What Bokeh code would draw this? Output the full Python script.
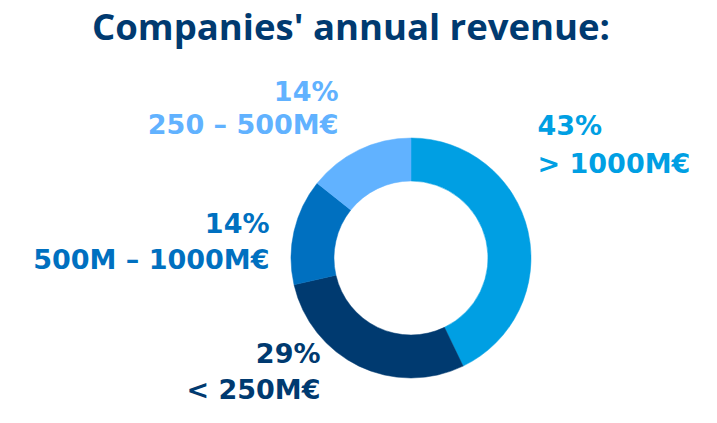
from bokeh.plotting import figure
from bokeh.models import Range1d, ColumnDataSource
from bokeh.core.properties import value
from bokeh.embed import file_html
from bokeh.resources import INLINE
import math

# ---- data ----
categories = ["> 1000M€", "< 250M€", "500M – 1000M€", "250 – 500M€"]
shares = [42.86, 28.57, 14.29, 14.29]
pct_labels = ["43%", "29%", "14%", "14%"]
colors = ["#009FE3", "#003A70", "#0070C0", "#61B2FF"]
title_text = "Companies' annual revenue:"

W, H = 701, 407
p = figure(width=W, height=H, output_backend="svg", toolbar_location=None,
           title=None, x_range=Range1d(0, W), y_range=Range1d(0, H), min_border=0)
p.axis.visible = False
p.grid.visible = False
p.outline_line_color = None
p.background_fill_color = "white"
p.border_fill_color = "white"

def X(px):
    return px
def Y(py):
    return H - py

# donut
total = sum(shares)
starts, ends = [], []
cum = 0.0
for s in shares:
    starts.append(math.pi / 2 - 2 * math.pi * cum / total)
    cum += s
    ends.append(math.pi / 2 - 2 * math.pi * cum / total)
src = ColumnDataSource(dict(start=starts, end=ends, color=colors, cat=categories))
p.annular_wedge(x=X(410.5), y=Y(257.5), inner_radius=77, outer_radius=120,
                inner_radius_units="screen", outer_radius_units="screen",
                start_angle="start", end_angle="end", direction="clock",
                fill_color="color", line_color="color", line_width=0.5, source=src)

# title
p.text(x=[X(350.5)], y=[Y(25.5)], text=[title_text], text_font=value("Open Sans"),
       text_font_style="bold", text_font_size="36.5px", text_color="#003A70",
       text_align="center", text_baseline="middle")

# labels: (anchor x, middle of line 1, middle of line 2, align)
label_pos = [
    (537, 124.5, 163, "left"),
    (320, 353, 389, "right"),
    (269, 222.5, 259, "right"),
    (338, 91, 124, "right"),
]
for (ax, m1, m2, al), pc, cat, col in zip(label_pos, pct_labels, categories, colors):
    p.text(x=[X(ax), X(ax)], y=[Y(m1), Y(m2)], text=[pc, cat],
           text_font=value("DejaVu Sans"), text_font_style="bold",
           text_font_size="27px", text_color=col, text_align=al,
           text_baseline="middle")

open("out.html", "w").write(file_html(p, INLINE))
